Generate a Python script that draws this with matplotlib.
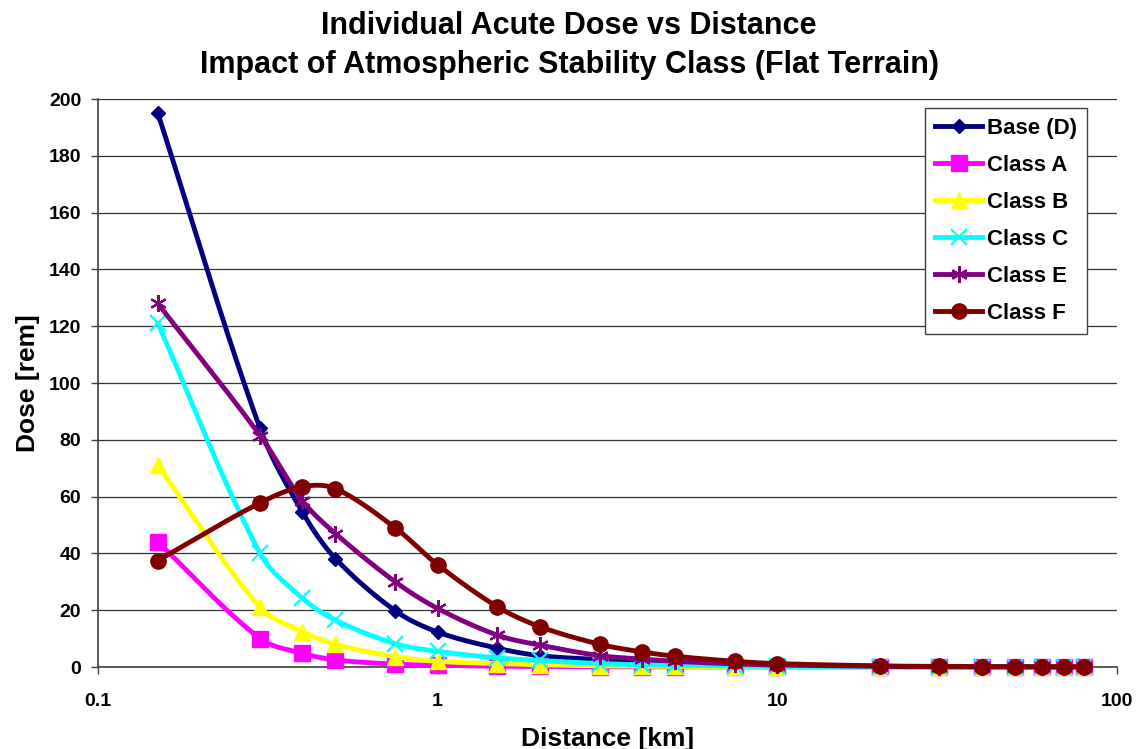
import numpy as np
import matplotlib
matplotlib.use("Agg")
import matplotlib.pyplot as plt
from matplotlib.lines import Line2D

# Distance from release point [km]
distance = [0.15, 0.3, 0.4, 0.5, 0.75, 1, 1.5, 2, 3, 4, 5, 7.5, 10,
            20, 30, 40, 50, 60, 70, 80]

# Individual acute dose [rem] per atmospheric stability class
dose_base_d = [195, 84, 54.5, 38.2, 19.8, 12.3, 6.6, 4.0, 2.6, 1.9, 1.3, 0.7, 0.45,
               0.15, 0.08, 0.05, 0.04, 0.03, 0.02, 0.02]
dose_class_a = [44, 10, 4.8, 2.5, 1.0, 0.6, 0.3, 0.2, 0.1, 0.07, 0.05, 0.03, 0.02,
                0.01, 0.01, 0.01, 0.0, 0.0, 0.0, 0.0]
dose_class_b = [71, 21, 12.4, 8.0, 3.6, 2.0, 1.2, 0.8, 0.4, 0.3, 0.2, 0.1, 0.07,
                0.02, 0.01, 0.01, 0.01, 0.0, 0.0, 0.0]
dose_class_c = [121, 40, 24.2, 16.5, 8.2, 5.5, 3.2, 2.3, 1.2, 0.8, 0.6, 0.3, 0.2,
                0.06, 0.03, 0.02, 0.02, 0.01, 0.01, 0.01]
dose_class_e = [128, 81.5, 58.5, 47, 30, 20.6, 11.2, 7.7, 4.0, 2.8, 2.0, 1.1, 0.7,
                0.25, 0.12, 0.08, 0.06, 0.05, 0.04, 0.03]
dose_class_f = [37.5, 57.8, 63.5, 62.8, 49, 36, 21.2, 14.2, 8.0, 5.3, 3.8, 2.0, 1.2,
                0.4, 0.2, 0.12, 0.09, 0.07, 0.06, 0.05]

series_labels = ["Base (D)", "Class A", "Class B", "Class C", "Class E", "Class F"]
x_tick_values = [0.1, 1, 10, 100]
x_tick_labels = ["0.1", "1", "10", "100"]
y_tick_values = list(range(0, 201, 20))

FONT = "Liberation Sans"
plt.rcParams["font.family"] = [FONT, "DejaVu Sans"]
plt.rcParams["font.weight"] = "bold"


def smooth_curve(ax, xs, ys, samples=40):
    """Smoothed Bezier curve through the points, built in display space with
    tangent handles scaled by the neighbouring segment lengths."""
    tr = ax.transData
    pts = tr.transform(np.column_stack([xs, ys]).astype(float))
    n = len(pts)
    t = np.linspace(0, 1, samples)[:, None]
    out = []
    for i in range(n - 1):
        p0 = pts[i - 1] if i > 0 else pts[i]
        p1 = pts[i]
        p2 = pts[i + 1]
        p3 = pts[i + 2] if i + 2 < n else pts[i + 1]
        d01 = np.hypot(*(p1 - p0))
        d12 = np.hypot(*(p2 - p1))
        d23 = np.hypot(*(p3 - p2))
        f1 = d12 / (3.0 * (d01 + d12)) if d01 + d12 > 0 else 0.0
        f2 = d12 / (3.0 * (d12 + d23)) if d12 + d23 > 0 else 0.0
        c1 = p1 + (p2 - p0) * f1
        c2 = p2 - (p3 - p1) * f2
        seg = ((1 - t) ** 3) * p1 + 3 * ((1 - t) ** 2) * t * c1 \
            + 3 * (1 - t) * t ** 2 * c2 + t ** 3 * p2
        out.append(seg if i == 0 else seg[1:])
    out = tr.inverted().transform(np.vstack(out))
    return out[:, 0], out[:, 1]


fig = plt.figure(figsize=(11.38, 7.49), dpi=100)
ax = fig.add_axes([98 / 1138, 1 - 667 / 749, (1117 - 98) / 1138, (667 - 99) / 749])
ax.set_xscale("log")
ax.set_xlim(0.1, 100)
ax.set_ylim(0, 200)

styles = [
    dict(color="#000080", marker="D", ms=7.5, mew=1.0, mfc="#000080", mec="#000080"),
    dict(color="#FF00FF", marker="s", ms=11, mew=1.0, mfc="#FF00FF", mec="#FF00FF"),
    dict(color="#FFFF00", marker="^", ms=12, mew=1.0, mfc="#FFFF00", mec="#FFFF00"),
    dict(color="#00FFFF", marker="x", ms=11, mew=1.6, mfc="#00FFFF", mec="#00FFFF"),
    dict(color="#800080", marker=(6, 2, 0), ms=12, mew=1.6, mfc="#800080", mec="#800080"),
    dict(color="#800000", marker="o", ms=11, mew=1.0, mfc="#800000", mec="#800000"),
]
all_doses = [dose_base_d, dose_class_a, dose_class_b, dose_class_c,
             dose_class_e, dose_class_f]

LW = 3.5
handles = []
for k, (ys, st, lab) in enumerate(zip(all_doses, styles, series_labels)):
    sx, sy = smooth_curve(ax, distance, ys)
    ax.plot(sx, sy, color=st["color"], lw=LW, solid_capstyle="round",
            solid_joinstyle="round", zorder=3 + 2 * k, clip_on=False)
    ax.plot(distance, ys, linestyle="none", marker=st["marker"], ms=st["ms"],
            mew=st["mew"], mfc=st["mfc"], mec=st["mec"], zorder=4 + 2 * k,
            clip_on=False)
    handles.append(Line2D([], [], color=st["color"], lw=LW, marker=st["marker"],
                          ms=st["ms"], mew=st["mew"], mfc=st["mfc"], mec=st["mec"]))

ax.set_xlim(0.1, 100)
ax.set_ylim(0, 200)
ax.set_xticks(x_tick_values)
ax.set_xticklabels(x_tick_labels)
ax.xaxis.set_minor_locator(matplotlib.ticker.NullLocator())
ax.set_yticks(y_tick_values)

ax.yaxis.grid(True, color="#333333", lw=0.9)
ax.xaxis.grid(False)
ax.set_axisbelow(True)
for side in ("top", "right"):
    ax.spines[side].set_visible(False)
for side in ("left", "bottom"):
    ax.spines[side].set_color("#404040")
    ax.spines[side].set_linewidth(1.2)

ax.tick_params(axis="both", direction="out", length=5, width=1.0, color="#404040",
               labelsize=14)
ax.tick_params(axis="y", pad=7)
ax.tick_params(axis="x", pad=14)
for lbl in ax.get_xticklabels() + ax.get_yticklabels():
    lbl.set_fontweight("bold")

ax.set_xlabel("Distance [km]", fontsize=19, fontweight="bold", labelpad=12)
ax.set_ylabel("Dose [rem]", fontsize=19, fontweight="bold", labelpad=6)

fig.text(0.5, 1 - 34 / 749, "Individual Acute Dose vs Distance",
         ha="center", va="baseline", fontsize=22, fontweight="bold")
fig.text(0.5, 1 - 73 / 749, "Impact of Atmospheric Stability Class (Flat Terrain)",
         ha="center", va="baseline", fontsize=22, fontweight="bold")

leg = fig.legend(handles, series_labels, loc="upper right",
                 bbox_to_anchor=(1087 / 1138, 1 - 108 / 749),
                 prop={"size": 16, "weight": "bold"}, frameon=True, fancybox=False,
                 edgecolor="#404040", framealpha=1.0, handlelength=2.1,
                 handletextpad=0.22, labelspacing=0.72, borderpad=0.45,
                 borderaxespad=0)
leg.get_frame().set_linewidth(1.0)

fig.savefig("out.png", dpi=100)
